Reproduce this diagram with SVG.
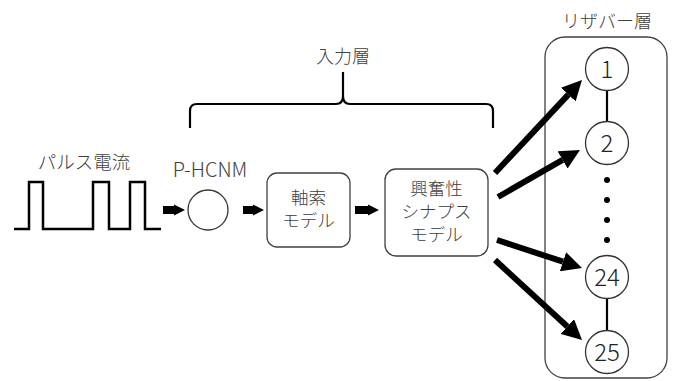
<svg xmlns="http://www.w3.org/2000/svg" width="674" height="381" viewBox="0 0 674 381">
<defs>
<style>
.t{font-family:"Noto Sans CJK JP","Liberation Sans",sans-serif;fill:#404040;text-anchor:middle;font-weight:300;font-size:18px}
.box{fill:#fff;stroke:#404040;stroke-width:1.3}
.node{fill:#fff;stroke:#333;stroke-width:1.3}
.num{font-family:"Noto Sans CJK JP","Liberation Sans",sans-serif;fill:#222;text-anchor:middle;font-size:24px;font-weight:300}
.sa{stroke:#000;stroke-width:8;fill:none}
.ba{stroke:#000;stroke-width:6;fill:none}
</style>
<marker id="sh" markerUnits="userSpaceOnUse" viewBox="0 0 10 10" refX="0" refY="5" markerWidth="11" markerHeight="15" orient="auto"><path d="M0,0L10,5L0,10z" fill="#000"/></marker>
<marker id="bh" markerUnits="userSpaceOnUse" viewBox="0 0 10 10" refX="0" refY="5" markerWidth="20" markerHeight="20" orient="auto"><path d="M0,0L10,5L0,10z" fill="#000"/></marker>
</defs>
<rect width="674" height="381" fill="#fff"/>
<g id="pulse">
<text class="t" x="84" y="169" style="font-size:18.5px">パルス電流</text>
<path d="M14,229H29V182H43V229H93V182H109V229H130V182H145V229H161" fill="none" stroke="#000" stroke-width="2.5"/>
</g>
<g id="phcnm">
<text class="t" x="210" y="177" style="font-size:20px">P-HCNM</text>
<circle cx="208" cy="210" r="20" class="node"/>
</g>
<g id="axon">
<rect x="267" y="173" width="83" height="74" rx="10" class="box"/>
<text class="t" x="308.5" y="204" style="font-size:17.5px">軸索</text>
<text class="t" x="308.5" y="227" style="font-size:17.5px">モデル</text>
</g>
<g id="synapse">
<rect x="385" y="169" width="103" height="87" rx="11" class="box"/>
<text class="t" x="436.5" y="195" style="font-size:17.5px">興奮性</text>
<text class="t" x="436.5" y="218" style="font-size:17.5px">シナプス</text>
<text class="t" x="436.5" y="241" style="font-size:17.5px">モデル</text>
</g>
<g id="input-layer">
<text class="t" x="343" y="63">入力層</text>
<path d="M190,128V111Q190,104 197,104H336Q343,104 343,96V72M343,96Q343,104 350,104H486Q493,104 493,111V128" fill="none" stroke="#000" stroke-width="2.2"/>
</g>
<g id="reservoir">
<rect x="545" y="37" width="122" height="341" rx="20" class="box"/>
<text class="t" x="607" y="28">リザバー層</text>
</g>
<g id="reservoir-links">
<line x1="607" y1="90" x2="607" y2="122" stroke="#000" stroke-width="2.2"/>
<line x1="607" y1="298" x2="607" y2="331" stroke="#000" stroke-width="2.2"/>
<circle cx="607" cy="180" r="3" fill="#000"/>
<circle cx="607" cy="200" r="3" fill="#000"/>
<circle cx="607" cy="220" r="3" fill="#000"/>
<circle cx="607" cy="240" r="3" fill="#000"/>
</g>
<g id="n1"><circle cx="607" cy="69" r="21.5" class="node"/><text class="num" x="607" y="77.5">1</text></g>
<g id="n2"><circle cx="607" cy="143" r="21.5" class="node"/><text class="num" x="607" y="151.5">2</text></g>
<g id="n24"><circle cx="607" cy="277" r="21.5" class="node"/><text class="num" x="607" y="285.5">24</text></g>
<g id="n25"><circle cx="607" cy="352" r="21.5" class="node"/><text class="num" x="607" y="360.5">25</text></g>
<g id="connectors">
<line class="sa" x1="163" y1="210" x2="174" y2="210" marker-end="url(#sh)"/>
<line class="sa" x1="243" y1="210" x2="253" y2="210" marker-end="url(#sh)"/>
<line class="sa" x1="355" y1="210" x2="368" y2="210" marker-end="url(#sh)"/>
<line class="ba" x1="495" y1="173" x2="568.3" y2="94.6" marker-end="url(#bh)"/>
<line class="ba" x1="498" y1="197" x2="562.6" y2="159.9" marker-end="url(#bh)"/>
<line class="ba" x1="497" y1="240" x2="563" y2="261.7" marker-end="url(#bh)"/>
<line class="ba" x1="495" y1="260" x2="567.3" y2="326.5" marker-end="url(#bh)"/>
</g>
</svg>
